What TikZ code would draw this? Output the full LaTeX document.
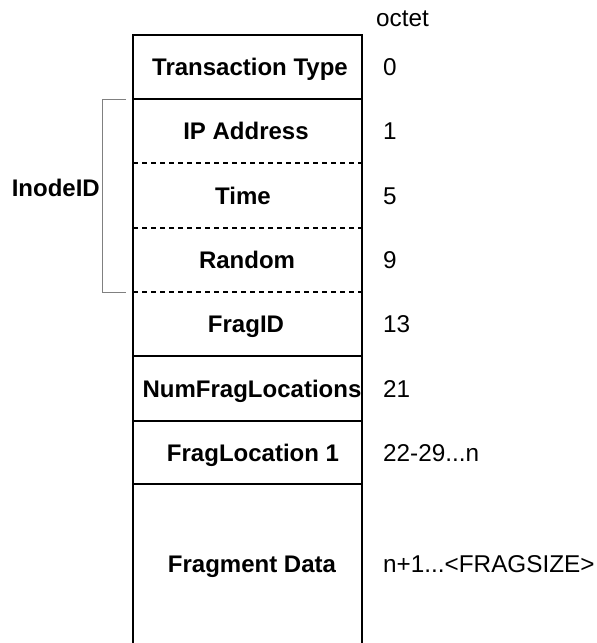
\documentclass[tikz,border=0pt]{standalone}
\usepackage{fontspec}
\setmainfont{Liberation Sans}
\usepackage{tikz}

\tikzset{
  field/.style={font=\bfseries\fontsize{24}{28}\selectfont, inner sep=0pt, text height=17.2pt, text depth=0pt},
  octet/.style={anchor=west, font=\fontsize{24.3}{28}\selectfont, inner sep=0pt, text height=17.2pt, text depth=0pt},
  solidsep/.style={line width=1.5pt},
  dashsep/.style={line width=1.2pt, dash pattern=on 5pt off 4pt}
}

\begin{document}
\begin{tikzpicture}[x=1pt,y=-1pt]
        \useasboundingbox (0,0) rectangle (597,643);

        % Frame of the packet, open at the bottom
        \draw[solidsep] (133,643) -- (133,35) -- (362,35) -- (362,643);
        \foreach \y in {99,356,421,484}
            \draw[solidsep] (133,\y) -- (362,\y);
        \foreach \y in {163,228,292}
            \draw[dashsep] (133,\y) -- (362,\y);

        % Fields
        \node[field] (ttype) at (250,67) {Transaction Type};
        \node[field] (ipaddr) at (246,131) {IP Address};
        \node[field] (time) at (243,195.5) {Time};
        \node[field] (random) at (247,260) {Random};
        \node[field] (fragid) at (246,324) {FragID};
        \node[field] (numfrag) at (252,388.5) {NumFragLocations};
        \node[field] (fragloc) at (253,452.5) {FragLocation 1};
        \node[field] (fragdata) at (252,564) {Fragment Data};

        % Octet offsets
        \node[octet] (octhead) at (376,18) {octet};
        \node[octet] (oct0) at (383,67) {0};
        \node[octet] (oct1) at (383,131) {1};
        \node[octet] (oct5) at (383,195.5) {5};
        \node[octet] (oct9) at (383,260) {9};
        \node[octet] (oct13) at (383,324) {13};
        \node[octet] (oct21) at (383,388.5) {21};
        \node[octet] (oct22) at (383,452.5) {22-29...n};
        \node[octet] (octn) at (383,564) {n+1...<FRAGSIZE>};

        % Bracket round the inode id
        \draw[gray, line width=1pt] (126,99) -- (102,99) -- (102,292) -- (126,292);
        \node[field, anchor=east] (inode) at (100,187.5) {InodeID};
    \end{tikzpicture}
\end{document}
